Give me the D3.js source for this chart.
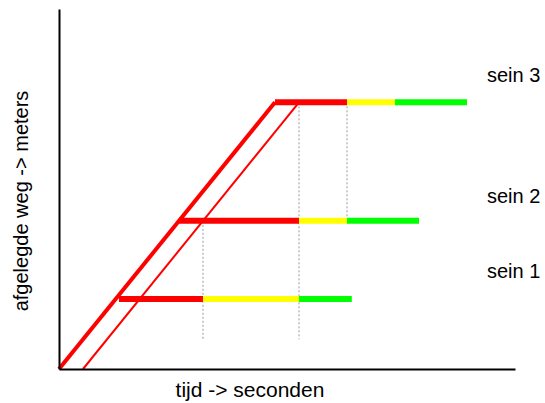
<!DOCTYPE html>
<html><head><meta charset="utf-8">
<script src="https://cdn.jsdelivr.net/npm/d3@7"></script>
<style>html,body{margin:0;padding:0;background:#fff;}svg{display:block;}</style>
</head><body>
<svg id="chart" width="545" height="403"></svg>
<script>
// Data (time units, distance units)
const signals = ["sein 1", "sein 2", "sein 3"];
const signalPos = [2.36, 5, 9];
const redStart = [2.5, 5, 9];
const yellowStart = [6, 10, 12];
const greenStart = [10, 12, 14];
const greenEnd = [12.2, 15, 17];
const frontLine = [[0, 0], [9, 9]];
const rearLine = [[1, 0], [10, 9]];
const dropX = [6, 10, 12];
const dropTop = [5, 9, 9];
const dropBottom = [1, 1, 5];
const xLabel = "tijd -> seconden";
const yLabel = "afgelegde weg -> meters";

const svg = d3.select("#chart");
const x = d3.scaleLinear().domain([0, 19]).range([59, 515]);
const y = d3.scaleLinear().domain([0, 12.15]).range([369, 9]);
const font = "Liberation Sans, Arial, sans-serif";

// dotted drop lines
svg.append("g").selectAll("line").data(dropX).join("line")
  .attr("x1", d => x(d)).attr("x2", d => x(d))
  .attr("y1", (d, i) => y(dropTop[i])).attr("y2", (d, i) => y(dropBottom[i]))
  .attr("stroke", "#999").attr("stroke-width", 1).attr("stroke-dasharray", "2,2");

// diagonal lines
const line = d3.line().x(d => x(d[0])).y(d => y(d[1]));
svg.append("path").attr("d", line(frontLine)).attr("fill", "none")
  .attr("stroke", "#ff0000").attr("stroke-width", 4);
svg.append("path").attr("d", line(rearLine)).attr("fill", "none")
  .attr("stroke", "#ff0000").attr("stroke-width", 2);

// signal bars
const segs = [];
signals.forEach((s, i) => {
  segs.push({y: signalPos[i], a: redStart[i], b: yellowStart[i], c: "#ff0000"});
  segs.push({y: signalPos[i], a: yellowStart[i], b: greenStart[i], c: "#ffff00"});
  segs.push({y: signalPos[i], a: greenStart[i], b: greenEnd[i], c: "#00ff00"});
});
svg.append("g").selectAll("line").data(segs).join("line")
  .attr("x1", d => x(d.a)).attr("x2", d => x(d.b))
  .attr("y1", d => y(d.y)).attr("y2", d => y(d.y))
  .attr("stroke", d => d.c).attr("stroke-width", 6);

// axes
svg.append("g").attr("transform", "translate(0,369)")
  .call(d3.axisBottom(x).tickValues([]).tickSizeOuter(0));
svg.append("g").attr("transform", "translate(59,0)")
  .call(d3.axisLeft(y).tickValues([]).tickSizeOuter(0));
svg.selectAll(".domain").attr("stroke", "#000").attr("stroke-width", 2);

// labels
svg.append("text").attr("x", 250).attr("y", 397).attr("text-anchor", "middle")
  .attr("font-family", font).attr("font-size", 21).attr("fill", "#000").text(xLabel);
svg.append("text").attr("transform", "translate(28,201) rotate(-90)").attr("text-anchor", "middle")
  .attr("font-family", font).attr("font-size", 20).attr("fill", "#000").text(yLabel);

const labelY = [278, 203, 82];
svg.append("g").selectAll("text").data(signals).join("text")
  .attr("x", 487).attr("y", (d, i) => labelY[i])
  .attr("font-family", font).attr("font-size", 20).attr("fill", "#000").text(d => d);
</script>
</body></html>
